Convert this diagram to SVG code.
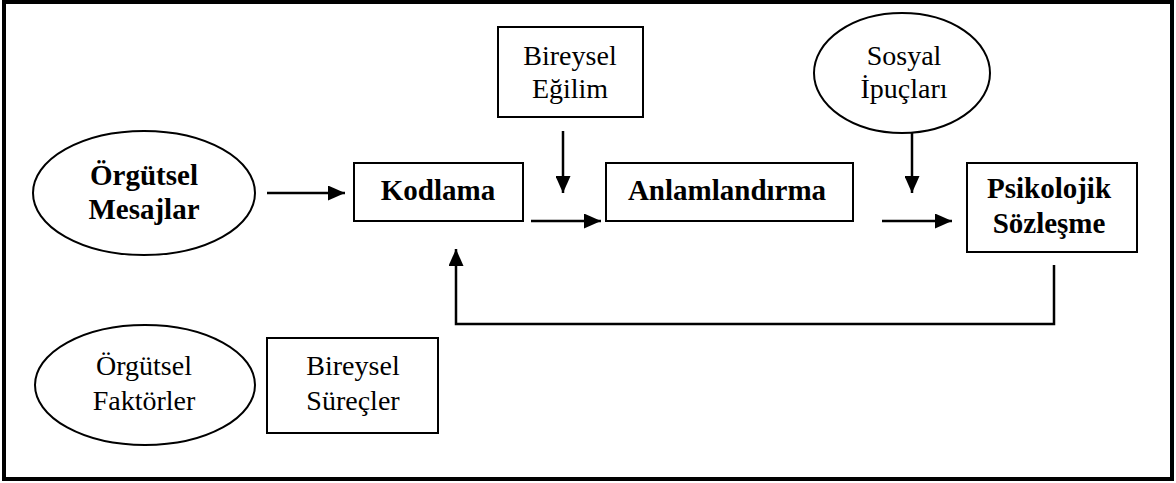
<svg xmlns="http://www.w3.org/2000/svg" width="1176" height="483" viewBox="0 0 1176 483">
  <style>
    .frame { fill: #fff; stroke: #000; stroke-width: 4; }
    .node { fill: #fff; stroke: #000; stroke-width: 2; }
    .link { fill: none; stroke: #000; stroke-width: 2.5; }
    .t { font-family: "Liberation Serif", "Times New Roman", serif; font-size: 28px; fill: #000; text-anchor: middle; }
    .b { font-weight: bold; font-size: 29px; }
  </style>
  <defs>
    <marker id="arrow" viewBox="0 0 17 15" refX="17" refY="7.5" markerWidth="17" markerHeight="15" markerUnits="userSpaceOnUse" orient="auto">
      <path d="M0,0 L17,7.5 L0,15 Z" fill="#000"/>
    </marker>
  </defs>

  <!-- outer frame -->
  <rect class="frame" x="4" y="2" width="1168" height="477"/>

  <g id="orgutsel-mesajlar">
    <ellipse class="node" cx="144" cy="193" rx="111" ry="62"/>
    <text class="t b" x="144" y="185">Örgütsel</text>
    <text class="t b" x="144" y="219">Mesajlar</text>
  </g>

  <g id="kodlama">
    <rect class="node" x="354" y="163" width="169" height="58"/>
    <text class="t b" x="438" y="200">Kodlama</text>
  </g>

  <g id="bireysel-egilim">
    <rect class="node" x="498" y="27" width="145" height="90"/>
    <text class="t" x="570" y="65">Bireysel</text>
    <text class="t" x="570" y="98">Eğilim</text>
  </g>

  <g id="anlamlandirma">
    <rect class="node" x="606" y="163" width="247" height="58"/>
    <text class="t b" x="727" y="200">Anlamlandırma</text>
  </g>

  <g id="sosyal-ipuclari">
    <ellipse class="node" cx="902" cy="73" rx="88" ry="60"/>
    <text class="t" x="904" y="65">Sosyal</text>
    <text class="t" x="904" y="98">İpuçları</text>
  </g>

  <g id="psikolojik-sozlesme">
    <rect class="node" x="967" y="163" width="170" height="89"/>
    <text class="t b" x="1049" y="198">Psikolojik</text>
    <text class="t b" x="1049" y="233">Sözleşme</text>
  </g>

  <g id="orgutsel-faktorler">
    <ellipse class="node" cx="145" cy="385" rx="110" ry="60"/>
    <text class="t" x="144" y="375">Örgütsel</text>
    <text class="t" x="144" y="410">Faktörler</text>
  </g>

  <g id="bireysel-surecler">
    <rect class="node" x="267" y="338" width="171" height="95"/>
    <text class="t" x="353" y="375">Bireysel</text>
    <text class="t" x="353" y="410">Süreçler</text>
  </g>

  <g id="connectors">
    <line class="link" x1="267" y1="193" x2="345" y2="193" marker-end="url(#arrow)"/>
    <line class="link" x1="563" y1="131" x2="563" y2="193" marker-end="url(#arrow)"/>
    <line class="link" x1="531" y1="221" x2="601" y2="221" marker-end="url(#arrow)"/>
    <line class="link" x1="912" y1="133" x2="912" y2="193" marker-end="url(#arrow)"/>
    <line class="link" x1="882" y1="221" x2="952" y2="221" marker-end="url(#arrow)"/>
    <polyline class="link" points="1054,265 1054,324 456,324 456,249" marker-end="url(#arrow)"/>
  </g>
</svg>
